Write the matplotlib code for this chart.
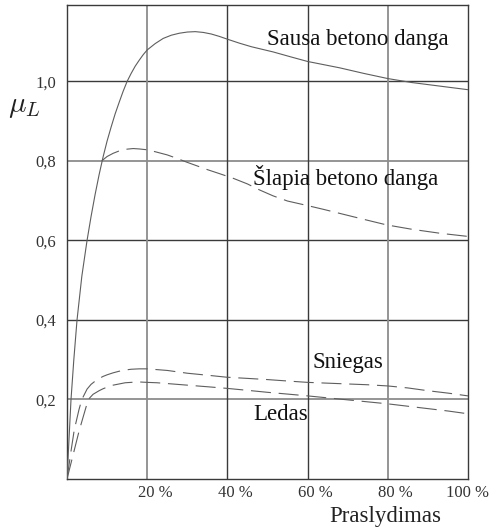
import numpy as np
import matplotlib
matplotlib.use("Agg")
import matplotlib.pyplot as plt
from matplotlib.transforms import ScaledTranslation

plt.rcParams['font.family'] = ['Liberation Serif', 'DejaVu Serif']
plt.rcParams['mathtext.fontset'] = 'cm'

# duomenys nuskaityti nuo paveikslo (x - praslydimas %, y - mu_L)
sausa_x = [0, 1, 1.7, 2.5, 3.7, 5, 6, 7, 8, 9, 10, 11, 12, 13, 14, 15, 16, 17, 18,
           19, 20, 22, 24, 26, 28, 30, 32, 34, 36, 38, 40, 43, 46, 51.4, 56, 60, 64,
           68, 74, 80, 86, 93, 100]
sausa_y = [0, 0.2, 0.3, 0.4, 0.51, 0.6, 0.66, 0.715, 0.765, 0.81, 0.85, 0.885, 0.918,
           0.947, 0.975, 1.0, 1.02, 1.038, 1.053, 1.067, 1.079, 1.095, 1.108, 1.116,
           1.121, 1.124, 1.125, 1.123, 1.119, 1.113, 1.106, 1.096, 1.087, 1.074, 1.061,
           1.05, 1.042, 1.034, 1.02, 1.007, 0.997, 0.988, 0.979]

slapia_x = [8.65, 10, 11.5, 13, 14.5, 16.5, 18, 19.9, 22, 25, 27.5, 29.8, 32, 35,
            38, 41.5, 45, 48, 51.4, 55, 59.8, 64, 68, 74, 79.7, 86, 93, 100]
slapia_y = [0.8, 0.811, 0.819, 0.825, 0.829, 0.831, 0.830, 0.828, 0.823, 0.815,
            0.806, 0.797, 0.789, 0.778, 0.768, 0.756, 0.742, 0.727, 0.712, 0.699,
            0.688, 0.678, 0.668, 0.653, 0.639, 0.628, 0.618, 0.61]

sniegas_x = [0, 1, 1.8, 3, 3.7, 5, 6, 7.5, 9, 10, 11.5, 13, 14.5, 16, 18, 20, 22.5,
             25, 30, 35, 39.8, 45, 50, 55.6, 60, 65, 70, 75, 80, 85, 90, 95, 100]
sniegas_y = [0, 0.07, 0.123, 0.175, 0.2, 0.226, 0.238, 0.25, 0.258, 0.262, 0.267,
             0.271, 0.274, 0.276, 0.277, 0.277, 0.275, 0.273, 0.266, 0.261, 0.256,
             0.253, 0.25, 0.246, 0.243, 0.241, 0.239, 0.237, 0.234, 0.229, 0.222,
             0.216, 0.209]

ledas_x = [0, 1, 2, 3, 4, 5.3, 6.5, 8, 9, 10, 11.5, 13, 14.5, 16, 18, 20, 22.5, 25,
           30, 35, 39.8, 45, 50, 55.6, 60, 65, 70, 75, 80, 85, 90, 95, 100]
ledas_y = [0, 0.04, 0.08, 0.12, 0.155, 0.2, 0.213, 0.222, 0.227, 0.231, 0.236,
           0.239, 0.242, 0.243, 0.244, 0.243, 0.242, 0.24, 0.236, 0.232, 0.228,
           0.223, 0.218, 0.213, 0.209, 0.204, 0.199, 0.194, 0.189, 0.183, 0.177,
           0.171, 0.164]

x_ticks = [20, 40, 60, 80, 100]
x_labels = ['20 %', '40 %', '60 %', '80 %', '100 %']
y_ticks = [0.2, 0.4, 0.6, 0.8, 1.0]
y_labels = ['0,2', '0,4', '0,6', '0,8', '1,0']

fig = plt.figure(figsize=(4.91, 5.31), dpi=100)
ax = fig.add_axes([67 / 491, 1 - 479 / 531, 401 / 491, 474 / 531])
ax.set_xlim(0, 100)
ax.set_ylim(0, 1.192)

# tinklelis: kai kurios linijos šviesesnės
light = '#8c8c8c'
dark = '#3a3a3a'
for yv, c in zip(y_ticks, [light, dark, dark, light, dark]):
    ax.axhline(yv, color=c, lw=1.0 if c == dark else 1.3, zorder=1)
for xv, c in zip(x_ticks[:-1], [light, dark, dark, light]):
    ax.axvline(xv, color=c, lw=1.0 if c == dark else 1.3, zorder=1)

lc = '#5e5e5e'
ax.plot(sausa_x, sausa_y, color=lc, lw=0.8, zorder=3)
ax.plot(slapia_x, slapia_y, color=lc, lw=0.8, dashes=(18, 7), zorder=3)
ax.plot(sniegas_x, sniegas_y, color=lc, lw=0.8, dashes=(18, 7), zorder=3)
ax.plot(ledas_x, ledas_y, color=lc, lw=0.8, dashes=(18, 7), zorder=3)

fs = 16.5
ax.text(49.9, 1.104, 'Sausa betono danga', fontsize=fs, va='center', ha='left', color='#111111')
ax.text(46.4, 0.757, 'Šlapia betono danga', fontsize=fs, va='center', ha='left', color='#111111')
ax.text(61.3, 0.293, 'Sniegas', fontsize=fs, va='center', ha='left', color='#111111')
ax.text(46.4, 0.161, 'Ledas', fontsize=fs, va='center', ha='left', color='#111111')

ax.set_xticks(x_ticks)
ax.set_xticklabels(x_labels, fontsize=12, color='#333333')
ax.set_yticks(y_ticks)
ax.set_yticklabels(y_labels, fontsize=12, color='#333333')
ax.tick_params(length=0, pad=4)
ax.tick_params(axis='y', pad=8)
for lab, dx in zip(ax.get_xticklabels(), [8, 8, 8, 8, -1]):
    lab.set_transform(lab.get_transform() + ScaledTranslation(dx / 100, 0, fig.dpi_scale_trans))

for s in ax.spines.values():
    s.set_color(dark)
    s.set_linewidth(1.0)

ax.set_xlabel('Praslydimas', fontsize=fs, color='#222222', va='center')
ax.xaxis.set_label_coords(0.794, -0.080)
ax.set_ylabel(r'$\mu_L$', fontsize=21, rotation=0, color='#222222', va='center', ha='center')
ax.yaxis.set_label_coords(-0.107, 0.785)

fig.savefig('out.png', dpi=100)
